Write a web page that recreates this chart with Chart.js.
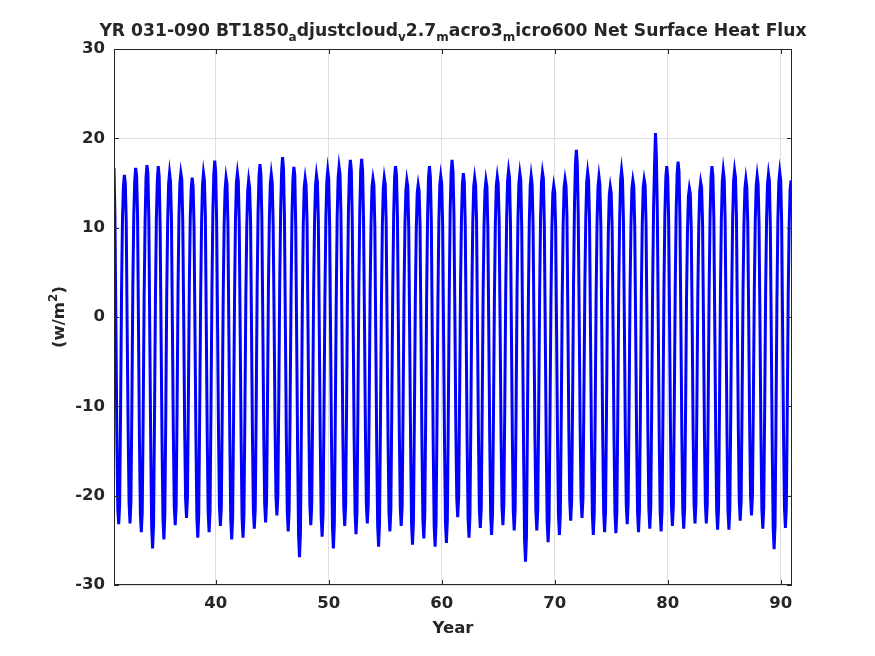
<!DOCTYPE html>
<html>
<head>
<meta charset="utf-8">
<title>Net Surface Heat Flux</title>
<script src="https://cdn.jsdelivr.net/npm/chart.js@4.4.1/dist/chart.umd.min.js"></script>
<style>
    html, body { margin: 0; padding: 0; background: #fff; }
    #wrap { width: 875px; height: 656px; }
</style>
</head>
<body>
<div id="wrap"><canvas id="fluxChart" width="875" height="656"></canvas></div>
<script>
// model years shown on the plot
const years = [31, 32, 33, 34, 35, 36, 37, 38, 39, 40,
               41, 42, 43, 44, 45, 46, 47, 48, 49, 50,
               51, 52, 53, 54, 55, 56, 57, 58, 59, 60,
               61, 62, 63, 64, 65, 66, 67, 68, 69, 70,
               71, 72, 73, 74, 75, 76, 77, 78, 79, 80,
               81, 82, 83, 84, 85, 86, 87, 88, 89, 90];

// monthly net surface heat flux (W/m2), one row per year, Jan..Dec
const fluxByYear = [
    [16.7, 11.2, -0.6, -13.1, -21.4, -23.2, -21.0, -10.4, 2.8, 10.9, 14.6, 15.9],
    [15.0, 10.6, -1.4, -12.5, -20.8, -23.1, -20.6, -9.7, 3.4, 11.3, 15.2, 16.7],
    [15.8, 11.5, -0.9, -13.6, -22.0, -24.1, -21.8, -10.9, 2.2, 10.5, 15.6, 17.0],
    [16.1, 10.9, -1.8, -14.2, -23.5, -25.9, -23.3, -11.6, 1.9, 11.0, 15.3, 16.9],
    [15.7, 10.2, -2.1, -13.9, -22.6, -24.9, -22.1, -10.8, 2.5, 10.7, 14.9, 16.1],
    [15.2, 11.0, -0.7, -12.8, -21.2, -23.3, -21.1, -10.1, 3.1, 11.4, 15.0, 16.1],
    [15.4, 10.8, 0.2, -12.0, -20.3, -22.5, -20.2, -9.2, 3.6, 11.2, 14.4, 15.6],
    [14.6, 10.1, -1.5, -13.4, -22.4, -24.7, -22.0, -11.0, 2.0, 10.6, 14.8, 16.1],
    [15.3, 11.4, -0.8, -13.3, -21.9, -24.1, -21.7, -10.3, 2.9, 11.8, 16.0, 17.5],
    [16.2, 10.7, -1.2, -12.9, -21.3, -23.4, -21.2, -10.0, 2.6, 10.4, 14.3, 15.6],
    [14.9, 10.3, -1.9, -13.8, -22.7, -24.9, -22.4, -11.2, 1.8, 10.9, 15.1, 16.1],
    [15.2, 10.5, -1.6, -13.7, -22.5, -24.7, -22.2, -10.9, 2.1, 10.2, 14.1, 15.3],
    [14.5, 10.9, -0.9, -13.0, -21.6, -23.7, -21.5, -10.2, 3.2, 11.7, 15.8, 17.1],
    [16.0, 11.1, -0.4, -12.6, -20.9, -23.0, -20.7, -9.6, 3.3, 11.1, 14.9, 16.0],
    [15.1, 10.4, 0.1, -11.9, -20.1, -22.2, -20.0, -9.0, 3.8, 12.0, 16.3, 17.9],
    [16.6, 11.3, -1.1, -13.2, -21.8, -24.0, -21.6, -10.6, 2.4, 11.3, 15.4, 16.8],
    [15.9, 10.0, -2.4, -14.9, -24.4, -26.9, -24.1, -12.3, 1.3, 10.3, 14.5, 15.5],
    [14.7, 10.6, -0.8, -12.7, -21.1, -23.3, -21.0, -10.0, 3.0, 10.8, 14.7, 15.9],
    [15.1, 10.9, -1.3, -13.5, -22.3, -24.6, -22.0, -10.9, 2.3, 11.0, 15.2, 16.4],
    [15.5, 10.3, -2.0, -14.3, -23.6, -25.9, -23.2, -11.7, 1.7, 11.2, 15.5, 16.8],
    [16.0, 11.6, -0.6, -12.9, -21.2, -23.4, -21.1, -9.9, 3.5, 12.1, 16.2, 17.6],
    [16.5, 11.0, -1.0, -13.4, -22.0, -24.3, -21.9, -10.5, 3.0, 11.9, 16.4, 17.7],
    [16.4, 10.8, -0.5, -12.8, -21.0, -23.1, -20.9, -9.8, 2.9, 10.5, 14.6, 15.5],
    [14.8, 10.1, -2.2, -14.5, -23.4, -25.7, -23.0, -11.5, 1.6, 10.3, 14.5, 15.6],
    [14.9, 10.7, -1.0, -13.3, -21.8, -24.0, -21.6, -10.4, 2.7, 11.4, 15.7, 16.9],
    [15.8, 11.2, -0.7, -12.9, -21.3, -23.4, -21.2, -10.1, 2.6, 10.4, 14.2, 15.3],
    [14.6, 9.9, -2.0, -14.2, -23.2, -25.5, -22.8, -11.4, 1.9, 9.8, 13.9, 14.8],
    [14.1, 10.2, -1.7, -13.8, -22.6, -24.8, -22.3, -11.1, 2.2, 11.2, 15.6, 16.9],
    [15.6, 10.6, -2.1, -14.4, -23.4, -25.7, -23.1, -11.6, 1.8, 10.7, 14.8, 15.8],
    [15.0, 10.4, -1.9, -14.1, -23.0, -25.3, -22.7, -11.3, 2.4, 11.8, 16.1, 17.6],
    [16.3, 11.5, 0.0, -12.2, -20.3, -22.4, -20.2, -9.4, 3.4, 11.1, 14.9, 16.1],
    [15.1, 10.3, -1.6, -13.9, -22.5, -24.7, -22.2, -11.0, 2.1, 10.6, 14.6, 15.6],
    [14.8, 10.8, -0.9, -13.0, -21.5, -23.6, -21.4, -10.2, 2.8, 10.3, 14.2, 15.3],
    [14.6, 10.0, -1.5, -13.6, -22.2, -24.4, -21.9, -10.8, 2.3, 10.6, 14.7, 15.7],
    [14.9, 10.9, -0.6, -12.8, -21.2, -23.3, -21.0, -10.0, 3.0, 11.2, 15.3, 16.4],
    [15.6, 10.7, -1.1, -13.2, -21.7, -23.9, -21.5, -10.4, 2.7, 11.0, 15.0, 16.1],
    [15.3, 9.8, -2.6, -15.3, -24.9, -27.4, -24.6, -12.6, 1.2, 10.5, 14.7, 15.8],
    [14.9, 10.5, -1.2, -13.2, -21.7, -23.9, -21.6, -10.5, 2.6, 11.1, 15.1, 16.2],
    [15.5, 10.2, -2.0, -14.1, -22.9, -25.2, -22.6, -11.4, 1.7, 9.9, 13.8, 14.7],
    [14.0, 10.1, -1.6, -13.7, -22.2, -24.4, -22.0, -10.9, 2.2, 10.4, 14.5, 15.4],
    [14.7, 11.3, -0.2, -12.5, -20.6, -22.8, -20.5, -9.5, 3.6, 12.4, 17.1, 18.7],
    [17.2, 11.4, 0.1, -12.1, -20.4, -22.5, -20.3, -9.3, 3.3, 11.0, 15.1, 16.2],
    [15.3, 10.6, -1.5, -13.6, -22.2, -24.4, -21.9, -10.8, 2.4, 10.6, 14.6, 15.7],
    [14.8, 10.2, -1.3, -13.5, -21.9, -24.1, -21.7, -10.6, 2.0, 9.7, 13.7, 14.6],
    [13.9, 10.0, -1.4, -13.6, -22.0, -24.2, -21.8, -10.7, 2.9, 11.2, 15.3, 16.4],
    [15.4, 10.8, -0.8, -12.9, -21.0, -23.2, -20.9, -9.9, 2.8, 10.3, 14.4, 15.3],
    [14.6, 10.1, -1.4, -13.6, -21.9, -24.1, -21.7, -10.6, 2.5, 10.5, 14.5, 15.4],
    [14.8, 10.5, -1.0, -13.2, -21.5, -23.7, -21.3, -10.3, 3.1, 12.2, 16.8, 20.6],
    [17.9, 11.7, -0.8, -13.3, -21.8, -24.0, -21.6, -10.4, 2.9, 11.5, 15.6, 16.9],
    [15.7, 10.9, -0.7, -13.0, -21.2, -23.4, -21.1, -10.0, 3.2, 11.8, 16.0, 17.4],
    [16.3, 11.0, -0.9, -13.1, -21.5, -23.7, -21.4, -10.3, 2.1, 9.6, 13.5, 14.4],
    [13.8, 10.0, -0.6, -12.8, -20.9, -23.1, -20.8, -9.8, 2.6, 10.1, 14.1, 15.1],
    [14.5, 10.7, -0.5, -12.7, -20.9, -23.1, -20.9, -9.9, 3.0, 11.3, 15.6, 16.9],
    [15.8, 11.0, -1.0, -13.1, -21.6, -23.8, -21.4, -10.3, 2.8, 11.0, 15.2, 16.4],
    [15.5, 10.8, -1.1, -13.2, -21.6, -23.8, -21.5, -10.4, 2.7, 11.1, 15.3, 16.4],
    [15.6, 11.2, -0.3, -12.4, -20.6, -22.8, -20.6, -9.6, 3.0, 10.5, 14.4, 15.4],
    [14.5, 10.6, 0.1, -11.9, -20.1, -22.2, -20.0, -9.1, 3.1, 10.8, 14.7, 15.8],
    [14.9, 10.4, -0.9, -13.0, -21.5, -23.7, -21.3, -10.3, 2.8, 10.9, 14.9, 16.0],
    [15.2, 10.1, -2.1, -14.5, -23.6, -26.0, -23.3, -11.8, 1.9, 10.8, 15.1, 16.2],
    [15.3, 10.7, -0.9, -13.1, -21.4, -23.6, -21.3, -10.2, 2.6, 10.3, 14.3, 15.3]
];

const xTicks = [40, 50, 60, 70, 80, 90];
const yTicks = [-30, -20, -10, 0, 10, 20, 30];

const titleParts = [
    ['YR 031-090 BT1850', false], ['a', true], ['djustcloud', false], ['v', true],
    ['2.7', false], ['m', true], ['acro3', false], ['m', true],
    ['icro600 Net Surface Heat Flux', false]
];

const INK = '#262626';
const FONT = 'DejaVu Sans';

// one point per month, placed at year + month/12
const points = [];
years.forEach((yr, i) => {
    fluxByYear[i].forEach((v, m) => points.push({ x: yr + m / 12, y: v }));
});

// box, inward ticks, title and axis labels drawn the MATLAB way
const matlabFrame = {
    id: 'matlabFrame',
    afterDatasetsDraw(chart) {
        const { ctx, chartArea: a, scales } = chart;
        const tick = 5;
        ctx.save();
        ctx.strokeStyle = INK;
        ctx.lineWidth = 1;
        ctx.setLineDash([]);
        ctx.strokeRect(a.left + 0.5, a.top + 0.5, a.right - a.left - 1, a.bottom - a.top - 1);

        ctx.beginPath();
        xTicks.forEach(v => {
            const px = Math.round(scales.x.getPixelForValue(v)) + 0.5;
            ctx.moveTo(px, a.bottom); ctx.lineTo(px, a.bottom - tick);
            ctx.moveTo(px, a.top); ctx.lineTo(px, a.top + tick);
        });
        yTicks.forEach(v => {
            const py = Math.round(scales.y.getPixelForValue(v)) + 0.5;
            ctx.moveTo(a.left, py); ctx.lineTo(a.left + tick, py);
            ctx.moveTo(a.right, py); ctx.lineTo(a.right - tick, py);
        });
        ctx.stroke();

        ctx.fillStyle = INK;
        ctx.textBaseline = 'alphabetic';

        // title with subscripts
        const titleBig = `bold 17.2px "${FONT}"`;
        const big = `bold 16.5px "${FONT}"`;
        const small = `bold 12px "${FONT}"`;
        let total = 0;
        titleParts.forEach(([txt, sub]) => {
            ctx.font = sub ? small : titleBig;
            total += ctx.measureText(txt).width;
        });
        let tx = (a.left + a.right) / 2 - total / 2;
        titleParts.forEach(([txt, sub]) => {
            ctx.font = sub ? small : titleBig;
            ctx.fillText(txt, tx, sub ? 40.5 : 35.5);
            tx += ctx.measureText(txt).width;
        });

        // x axis label
        ctx.font = big;
        ctx.textAlign = 'center';
        ctx.fillText('Year', (a.left + a.right) / 2, 633);

        // y axis label with superscript
        ctx.save();
        ctx.translate(64, (a.top + a.bottom) / 2);
        ctx.rotate(-Math.PI / 2);
        ctx.textAlign = 'left';
        const p1 = '(w/m', p2 = '2', p3 = ')';
        ctx.font = big; const w1 = ctx.measureText(p1).width; const w3 = ctx.measureText(p3).width;
        ctx.font = small; const w2 = ctx.measureText(p2).width;
        let lx = -(w1 + w2 + w3) / 2;
        ctx.font = big; ctx.fillText(p1, lx, 0); lx += w1;
        ctx.font = small; ctx.fillText(p2, lx, -7); lx += w2;
        ctx.font = big; ctx.fillText(p3, lx, 0);
        ctx.restore();

        ctx.restore();
    }
};

new Chart(document.getElementById('fluxChart'), {
    type: 'line',
    data: {
        datasets: [{
            data: points,
            borderColor: '#0000ff',
            borderWidth: 3,
            // a gapless dash keeps the line solid but makes Chart.js draw every vertex
            borderDash: [4000, 0],
            pointRadius: 0,
            tension: 0,
            fill: false
        }]
    },
    options: {
        responsive: false,
        animation: false,
        devicePixelRatio: 1,
        parsing: false,
        layout: { padding: { left: 0, right: 83, top: 49, bottom: 0 } },
        plugins: {
            legend: { display: false },
            tooltip: { enabled: false },
            title: { display: false }
        },
        scales: {
            x: {
                type: 'linear',
                min: 31,
                max: 91,
                afterBuildTicks: scale => { scale.ticks = xTicks.map(v => ({ value: v })); },
                afterFit: scale => { scale.height = 71; },
                grid: { color: '#dedede', drawTicks: false },
                border: { display: false },
                ticks: {
                    color: INK,
                    padding: 9,
                    maxRotation: 0,
                    font: { family: FONT, size: 16.5, weight: 'bold' }
                }
            },
            y: {
                min: -30,
                max: 30,
                afterBuildTicks: scale => { scale.ticks = yTicks.map(v => ({ value: v })); },
                afterFit: scale => { scale.width = 114; },
                grid: { color: '#dedede', drawTicks: false },
                border: { display: false },
                ticks: {
                    color: INK,
                    padding: 9,
                    font: { family: FONT, size: 16.5, weight: 'bold' }
                }
            }
        }
    },
    plugins: [matlabFrame]
});
</script>
</body>
</html>
